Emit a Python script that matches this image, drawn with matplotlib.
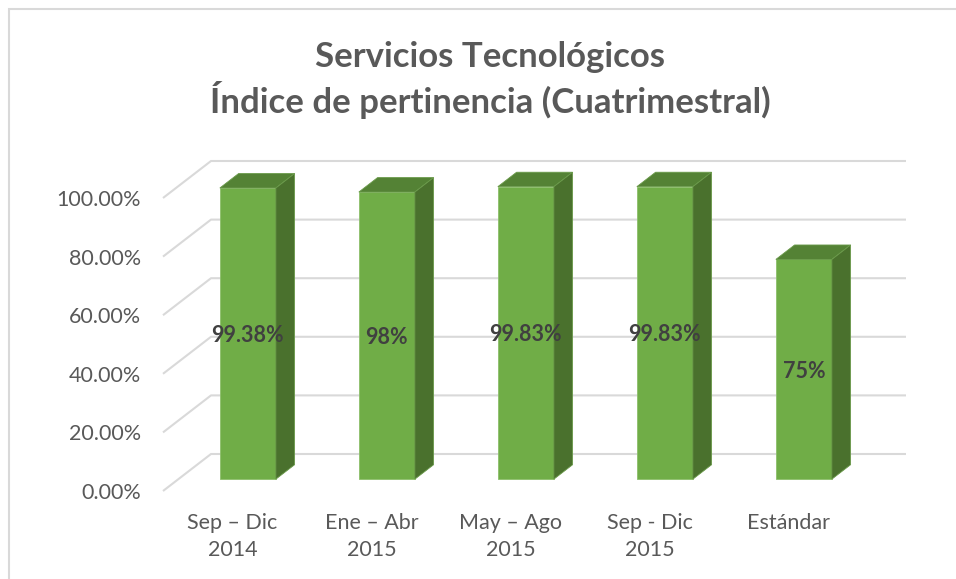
import numpy as np
import matplotlib.pyplot as plt
from matplotlib.patches import Polygon, Rectangle

# data
categories = ['Sep – Dic\n2014', 'Ene – Abr\n2015', 'May – Ago\n2015', 'Sep - Dic\n2015', 'Estándar']
values = [99.38, 98, 99.83, 99.83, 75]
value_labels = ['99.38%', '98%', '99.83%', '99.83%', '75%']
yticks = [0, 20, 40, 60, 80, 100]
ytick_labels = ['0.00%', '20.00%', '40.00%', '60.00%', '80.00%', '100.00%']
title = 'Servicios Tecnológicos\nÍndice de pertinencia (Cuatrimestral)'

plt.rcParams['font.family'] = ['Lato', 'DejaVu Sans']
gray = '#595959'

fig = plt.figure(figsize=(9.56, 5.79), dpi=100)
ax = fig.add_axes([163/956, 88/579, 695/956, 293/579])
ax.set_xlim(-0.5, 4.5)
ax.set_ylim(0, 100)

# depth vector of the 3d box, in data units
DX = 48/695*5
DY = 37/293*100
f_front, f_back = 0.32, 0.71
bw = 0.403

# gridlines: side wall + back wall
for v in yticks:
    ax.plot([-0.5, -0.5+DX, 4.5+DX], [v, v+DY, v+DY], color='#D9D9D9', lw=1.5,
            clip_on=False, zorder=1, solid_capstyle='butt')

# bars: front face, top, side
x = np.arange(len(values))
xf = x + f_front*DX
ax.bar(xf, values, width=bw, bottom=f_front*DY, color='#70AD47',
       edgecolor='#8CBF6A', linewidth=0.6, zorder=3, clip_on=False)
ddx = (f_back - f_front)*DX
ddy = (f_back - f_front)*DY
for xi, v in zip(xf, values):
    l, r = xi - bw/2, xi + bw/2
    b, t = f_front*DY, f_front*DY + v
    top = Polygon([(l, t), (r, t), (r+ddx, t+ddy), (l+ddx, t+ddy)], closed=True,
                  fc='#548235', ec='#6A9A4A', lw=0.6, zorder=3, clip_on=False)
    side = Polygon([(r, b), (r+ddx, b+ddy), (r+ddx, t+ddy), (r, t)], closed=True,
                   fc='#4A712D', ec='#6A9A4A', lw=0.6, zorder=3, clip_on=False)
    ax.add_patch(top)
    ax.add_patch(side)

# value labels in the middle of each bar
for xi, v, lab in zip(xf, values, value_labels):
    ax.text(xi, f_front*DY + v/2, lab, ha='center', va='center_baseline', fontsize=15.5,
            fontweight='bold', color='#404040', zorder=5)

for s in ax.spines.values():
    s.set_visible(False)
ax.set_yticks(yticks, ytick_labels)
ax.set_xticks(x, categories)
ax.tick_params(axis='y', length=0, pad=16, labelsize=15.5, labelcolor=gray)
ax.tick_params(axis='x', length=0, pad=16, labelsize=15.5, labelcolor=gray)
for t in ax.get_xticklabels():
    t.set_linespacing(1.45)

fig.text(490/956, 1 - 80/579, title, ha='center', va='center', fontsize=25,
         fontweight='bold', color=gray, linespacing=1.22)

# chart border
fig.patches.append(Rectangle((8.5/956, -0.1), 2, (579-9.5)/579 + 0.1, transform=fig.transFigure,
                             fill=False, ec='#D9D9D9', lw=1.5))

fig.savefig('out.png', dpi=100)
